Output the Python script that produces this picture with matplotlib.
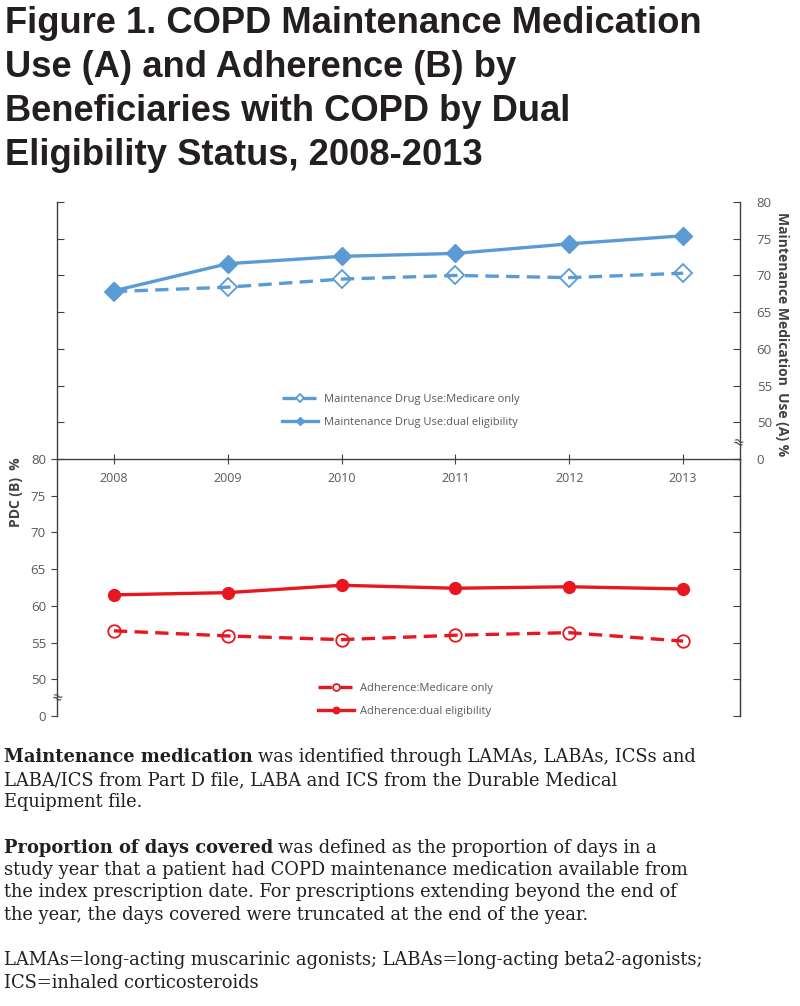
import matplotlib.pyplot as plt
from matplotlib import font_manager
import numpy as np

# ---------------------------------------------------------------------------
# Data

years = [2008, 2009, 2010, 2011, 2012, 2013]

use_medicare_only = [67.8, 68.4, 69.5, 70.0, 69.7, 70.3]
use_dual = [67.9, 71.6, 72.6, 73.0, 74.3, 75.4]

adh_medicare_only = [56.6, 55.9, 55.4, 56.0, 56.35, 55.2]
adh_dual = [61.5, 61.8, 62.8, 62.4, 62.6, 62.3]

ytick_vals = [45, 50, 55, 60, 65, 70, 75, 80]
ytick_labels = ['0', '50', '55', '60', '65', '70', '75', '80']

title_lines = [
    "Figure 1. COPD Maintenance Medication",
    "Use (A) and Adherence (B) by",
    "Beneficiaries with COPD by Dual",
    "Eligibility Status, 2008-2013",
]

# ---------------------------------------------------------------------------
# Figure

W, H = 800, 1006
fig = plt.figure(figsize=(W / 100, H / 100), dpi=100)

def fx(px):
    return px / W

def fy(py):
    return 1 - py / H

blue = '#5B9BD5'
red = '#E8161E'
gray = '#595959'
chart_font = 'Open Sans'

# pick the regular-width bold Liberation Sans file (not the Narrow one)
title_font = None
for f in font_manager.fontManager.ttflist:
    if (f.name == 'Liberation Sans' and 'Narrow' not in f.fname
            and f.weight in (700, 'bold') and f.style == 'normal'):
        title_font = font_manager.FontProperties(fname=f.fname)
        break
if title_font is None:
    title_font = font_manager.FontProperties(family='Liberation Sans', weight='bold')

left, right = 57, 740
ax_top = fig.add_axes([fx(left), fy(459), fx(right - left), fy(202) - fy(459)])
ax_bot = fig.add_axes([fx(left), fy(716), fx(right - left), fy(459) - fy(716)])

# top panel: maintenance medication use
ax_top.plot(years, use_medicare_only, color=blue, lw=2.4, ls=(0, (4, 2.2)),
            marker='D', ms=9, mfc='none', mec=blue, mew=1.3,
            label='Maintenance Drug Use:Medicare only')
ax_top.plot(years, use_dual, color=blue, lw=2.4, marker='D', ms=9,
            label='Maintenance Drug Use:dual eligibility')

# bottom panel: adherence
ax_bot.plot(years, adh_medicare_only, color=red, lw=2.4, ls=(0, (4, 2.2)),
            marker='o', ms=9, mfc='none', mec=red, mew=1.3,
            label='Adherence:Medicare only')
ax_bot.plot(years, adh_dual, color=red, lw=2.4, marker='o', ms=8.5,
            label='Adherence:dual eligibility')

for ax in (ax_top, ax_bot):
    ax.set_xlim(2007.5, 2013.5)
    ax.set_ylim(45, 80)
    ax.set_yticks(ytick_vals)
    for s in ax.spines.values():
        s.set_color('#404040')
        s.set_linewidth(1.0)
    ax.patch.set_alpha(0)

ax_top.spines['top'].set_visible(False)
ax_bot.spines['top'].set_visible(False)
ax_bot.spines['bottom'].set_visible(False)

ax_top.set_yticklabels(ytick_labels)
ax_top.tick_params(axis='y', direction='in', left=True, right=True,
                   labelleft=False, labelright=True, length=5, pad=12,
                   labelsize=9.5, labelcolor=gray, color='#404040')
ax_top.set_xticks(years)
ax_top.set_xticklabels([str(y) for y in years])
ax_top.tick_params(axis='x', direction='inout', length=7, pad=6,
                   labelsize=9, labelcolor=gray, color='#404040')

ax_bot.set_yticklabels(ytick_labels)
ax_bot.tick_params(axis='y', direction='out', left=True, right=False,
                   length=4, pad=4, labelsize=9.5, labelcolor=gray,
                   color='#404040')
ax_bot.set_xticks([])
ax_bot_r = ax_bot.twinx()
ax_bot_r.set_ylim(45, 80)
ax_bot_r.set_yticks(ytick_vals)
ax_bot_r.tick_params(axis='y', direction='in', length=5, labelright=False,
                     color='#404040')
for s in ax_bot_r.spines.values():
    s.set_visible(False)
ax_bot_r.spines['right'].set_visible(True)
ax_bot_r.spines['right'].set_color('#404040')

for lab in ax_top.get_xticklabels() + ax_top.get_yticklabels() + ax_bot.get_yticklabels():
    lab.set_fontfamily(chart_font)

# legends
leg1 = ax_top.legend(loc='upper left', bbox_to_anchor=(fx(276), fy(388)),
                     bbox_transform=fig.transFigure, frameon=False,
                     prop={'family': chart_font, 'size': 8}, labelcolor=gray,
                     handlelength=3.3, handletextpad=0.5, labelspacing=1.15,
                     markerscale=0.45, borderpad=0)
leg2 = ax_bot.legend(loc='upper left', bbox_to_anchor=(fx(312), fy(677)),
                     bbox_transform=fig.transFigure, frameon=False,
                     prop={'family': chart_font, 'size': 8}, labelcolor=gray,
                     handlelength=3.3, handletextpad=0.5, labelspacing=1.15,
                     markerscale=0.55, borderpad=0)

# axis break marks
fig.text(fx(left), fy(698), '≈', ha='center', va='center', fontsize=10,
         color='#404040', rotation=-20)
fig.text(fx(right - 2), fy(443), '≈', ha='center', va='center', fontsize=10,
         color='#404040', rotation=-20)

# axis titles
fig.text(fx(782), fy(212), 'Maintenance Medication  Use (A) %', rotation=270,
         ha='center', va='top', fontsize=10, fontweight='bold',
         family=chart_font, color='#404040')
fig.text(fx(16), fy(457), 'PDC (B)  %', rotation=90, ha='center', va='top',
         fontsize=10, fontweight='bold', family=chart_font, color='#404040')

# title
title_font.set_size(26.2)
for i, line in enumerate(title_lines):
    fig.text(fx(5), fy(33 + i * 44), line, ha='left', va='baseline',
             fontproperties=title_font, color='#231F20')

# footnotes
serif = 'DejaVu Serif'
fs = 12.9
renderer = fig.canvas.get_renderer()

def mixed_line(y, bold, rest):
    t = fig.text(fx(4), fy(y), bold, ha='left', va='baseline', fontsize=fs,
                 fontweight='bold', family=serif, color='#231F20')
    bb = t.get_window_extent(renderer=renderer)
    fig.text(bb.x1 / W + fx(5), fy(y), rest, ha='left', va='baseline',
             fontsize=fs, family=serif, color='#231F20')

def plain_line(y, s):
    fig.text(fx(4), fy(y), s, ha='left', va='baseline', fontsize=fs,
             family=serif, color='#231F20')

mixed_line(762, 'Maintenance medication',
           'was identified through LAMAs, LABAs, ICSs and')
plain_line(785, 'LABA/ICS from Part D file, LABA and ICS from the Durable Medical')
plain_line(807, 'Equipment file.')
mixed_line(853, 'Proportion of days covered',
           'was defined as the proportion of days in a')
plain_line(875, 'study year that a patient had COPD maintenance medication available from')
plain_line(897, 'the index prescription date. For prescriptions extending beyond the end of')
plain_line(920, 'the year, the days covered were truncated at the end of the year.')
plain_line(965, 'LAMAs=long-acting muscarinic agonists; LABAs=long-acting beta2-agonists;')
plain_line(988, 'ICS=inhaled corticosteroids')

fig.savefig('out.png', dpi=100)
